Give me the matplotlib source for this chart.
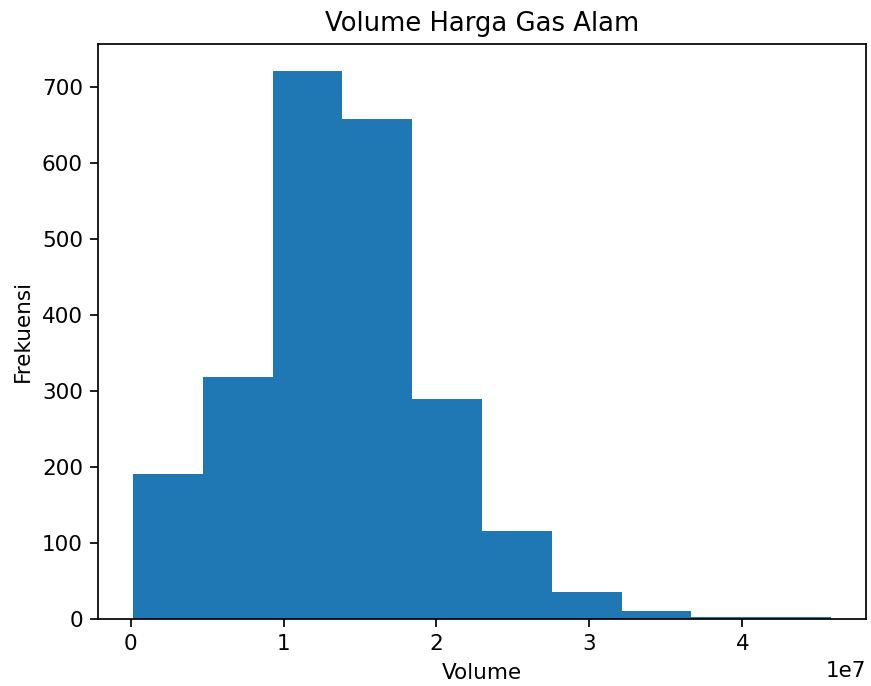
import matplotlib
matplotlib.use("Agg")
import matplotlib.pyplot as plt
import numpy as np

# Histogram bin edges (Volume) and counts
bin_start = 0.015e7
bin_end = 4.58e7
n_bins = 10
counts = [191, 318, 721, 658, 290, 116, 36, 11, 3, 2]

edges = np.linspace(bin_start, bin_end, n_bins + 1)
centers = (edges[:-1] + edges[1:]) / 2

dpi = 155
fig = plt.figure(figsize=(871 / dpi, 686 / dpi), dpi=dpi)
ax = fig.add_axes([98 / 871, 1 - 619 / 686, (866 - 98) / 871, (619 - 44) / 686])
ax.hist(centers, bins=edges, weights=counts, color="#1f77b4")
ax.set_title("Volume Harga Gas Alam")
ax.set_xlabel("Volume")
ax.set_ylabel("Frekuensi")
fig.savefig("out.png", dpi=dpi)
